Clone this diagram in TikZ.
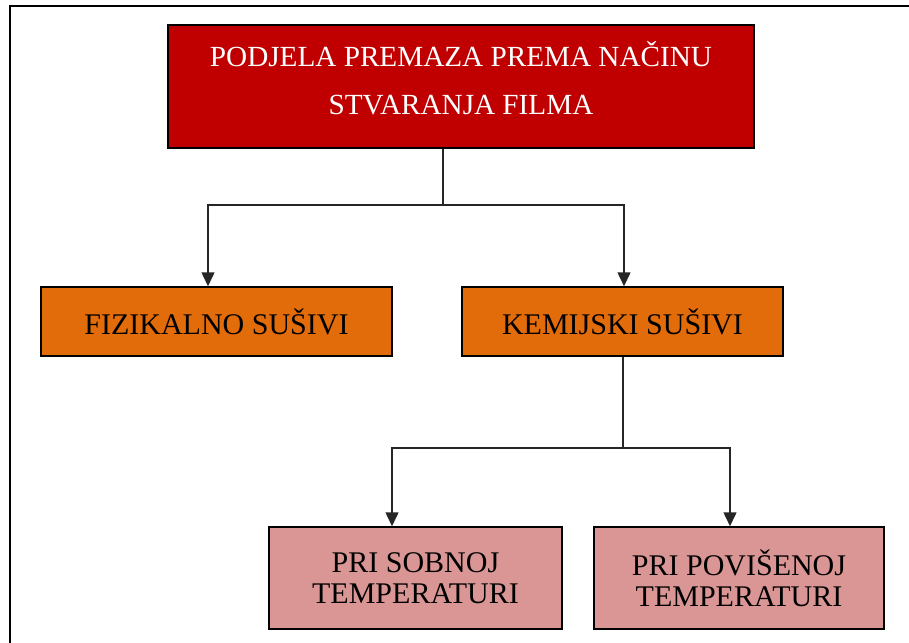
\documentclass[tikz,border=0pt]{standalone}
\usepackage{fontspec}
\setmainfont{Liberation Serif}
\usetikzlibrary{arrows.meta}
\definecolor{topred}{HTML}{C00000}
\definecolor{midorange}{HTML}{E36C0A}
\definecolor{lowpink}{HTML}{D99694}
\begin{document}
\begin{tikzpicture}[x=1pt,y=-1pt,
  boxbase/.style={draw=black,line width=1.5pt,align=center,inner sep=0pt,
    font=\fontsize{30}{31}\selectfont},
  topbox/.style={boxbase,fill=topred,text=white,minimum width=586pt,minimum height=123pt,
    font=\fontsize{29.2}{48}\selectfont},
  midbox/.style={boxbase,fill=midorange,text=black,minimum height=69pt},
  lowbox/.style={boxbase,fill=lowpink,text=black,minimum height=102pt},
  conn/.style={line width=1.5pt,draw=black!85},
  arr/.style={conn,-{Triangle[length=14pt,width=13pt]}}]
\useasboundingbox (0,0) rectangle (909,642);
\fill[white] (0,0) rectangle (909,642);
% outer frame (top and left edges visible)
\coordinate (fa) at (10,642);
\coordinate (fb) at (10,6);
\coordinate (fc) at (909,6);
\draw[line width=2.5pt,line cap=rect] (fa) -- (fb) -- (fc);
% nodes
\node[topbox] (top) at (461,86.5) {\raisebox{-1pt}[0pt][0pt]{\begin{tabular}{@{}c@{}}PODJELA PREMAZA PREMA NAČINU\\STVARANJA FILMA\end{tabular}}};
\node[midbox,minimum width=351pt] (fiz) at (216.5,321.5) {FIZIKALNO SUŠIVI};
\node[midbox,minimum width=321pt] (kem) at (622.5,321.5) {KEMIJSKI SUŠIVI};
\node[lowbox,minimum width=293pt] (sob) at (415.5,578) {PRI SOBNOJ\\TEMPERATURI};
\node[lowbox,minimum width=290pt] (pov) at (739,578) {PRI POVIŠENOJ\\TEMPERATURI};
% junctions
\coordinate (j1) at (443,205);
\coordinate (j2) at (623,448);
\draw[conn] (top.south -| j1) -- (j1);
\draw[arr] (j1) -| ([xshift=-8.5pt]fiz.north);
\draw[arr] (j1) -| ([xshift=1.5pt]kem.north);
\draw[conn] (kem.south -| j2) -- (j2);
\draw[arr] (j2) -| ([xshift=-23.5pt]sob.north);
\draw[arr] (j2) -| ([xshift=-9pt]pov.north);
\end{tikzpicture}
\end{document}
